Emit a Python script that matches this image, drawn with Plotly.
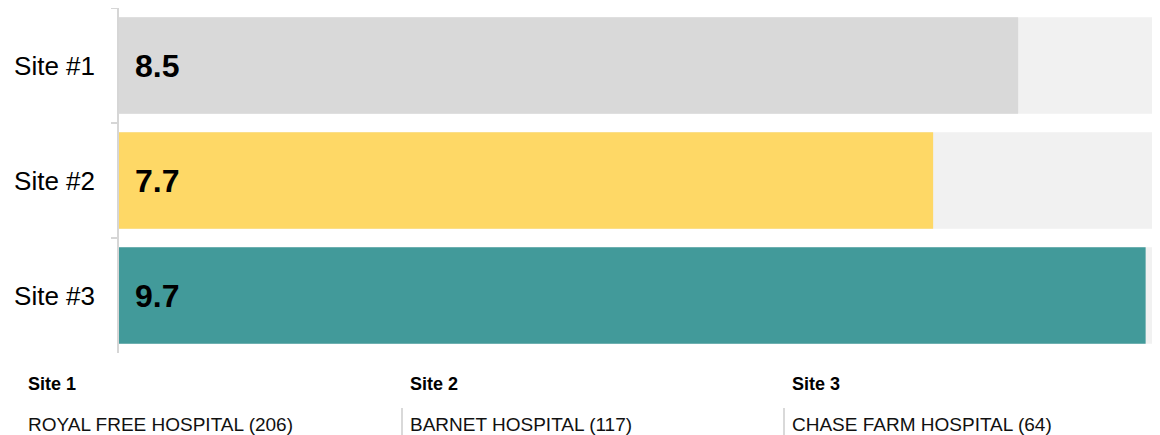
import plotly.graph_objects as go

categories = ["Site #1", "Site #2", "Site #3"]
values = [8.5, 7.7, 9.7]
max_value = 10
bar_colors = ["#d9d9d9", "#fed866", "#429a9a"]
site_titles = ["Site 1", "Site 2", "Site 3"]
site_names = ["ROYAL FREE HOSPITAL (206)", "BARNET HOSPITAL (117)", "CHASE FARM HOSPITAL (64)"]

FONT = "Arial, 'Liberation Sans', sans-serif"
OFF = 8  # page body margin
W, H = 1160 - OFF, 435 - OFF
ml, mr, mt, mb = 119 - OFF, 0, 8 - OFF, H - (353 - OFF)
pw = W - ml - mr
ph = H - mt - mb
k = 106.25  # px per unit
x_lo = 4 / k
x_hi = x_lo + pw / k

fig = go.Figure()
fig.add_trace(go.Bar(
    y=categories, x=[max_value] * len(categories), orientation="h",
    marker=dict(color="#f1f1f1", line=dict(width=0)), width=0.84,
    hoverinfo="skip", showlegend=False))
fig.add_trace(go.Bar(
    y=categories, x=values, orientation="h",
    marker=dict(color=bar_colors, line=dict(width=0)), width=0.84,
    showlegend=False))

for c, v in zip(categories, values):
    fig.add_annotation(x=0, xref="paper", y=c, yref="y", text=f"<b>{v}</b>",
                       showarrow=False, xanchor="left", yanchor="middle", xshift=14,
                       font=dict(family=FONT, size=32, color="#000"))

def px_x(p):
    return (p - OFF - ml) / pw

def px_y(p):
    return (H - mb - (p - OFF)) / ph

col_x = [20, 402, 784]
for i, (t, n) in enumerate(zip(site_titles, site_names)):
    x0 = col_x[i]
    fig.add_annotation(x=px_x(x0 + 6), xref="paper", y=px_y(384), yref="paper",
                       text=f"<b>{t}</b>", showarrow=False, xanchor="left", yanchor="middle",
                       font=dict(family=FONT, size=18, color="#000"))
    fig.add_annotation(x=px_x(x0 + 6), xref="paper", y=px_y(424), yref="paper",
                       text=n, showarrow=False, xanchor="left", yanchor="middle",
                       font=dict(family=FONT, size=19, color="#111"))
    if i > 0:
        fig.add_shape(type="line", xref="paper", yref="paper",
                      x0=px_x(x0), x1=px_x(x0), y0=px_y(408), y1=px_y(436),
                      line=dict(color="#cccccc", width=1.5))

fig.update_layout(
    width=W, height=H, barmode="overlay",
    margin=dict(l=ml, r=mr, t=mt, b=mb, pad=0),
    paper_bgcolor="white", plot_bgcolor="white",
    font=dict(family=FONT),
    xaxis=dict(range=[x_lo, x_hi], visible=False, fixedrange=True),
    yaxis=dict(categoryorder="array", categoryarray=categories,
               range=[2.5, -0.5], tickson="boundaries", ticks="outside", ticklen=6,
               tickcolor="#d6d6d6", tickwidth=1.5, showline=True, linecolor="#d6d6d6",
               linewidth=1.5, showgrid=False, zeroline=False,
               tickfont=dict(family=FONT, size=26, color="#000"),
               ticklabelstandoff=17),
)

fig.write_html(
    "out.html",
    post_script="document.documentElement.style.overflow='hidden';document.body.style.overflow='hidden';",
)
